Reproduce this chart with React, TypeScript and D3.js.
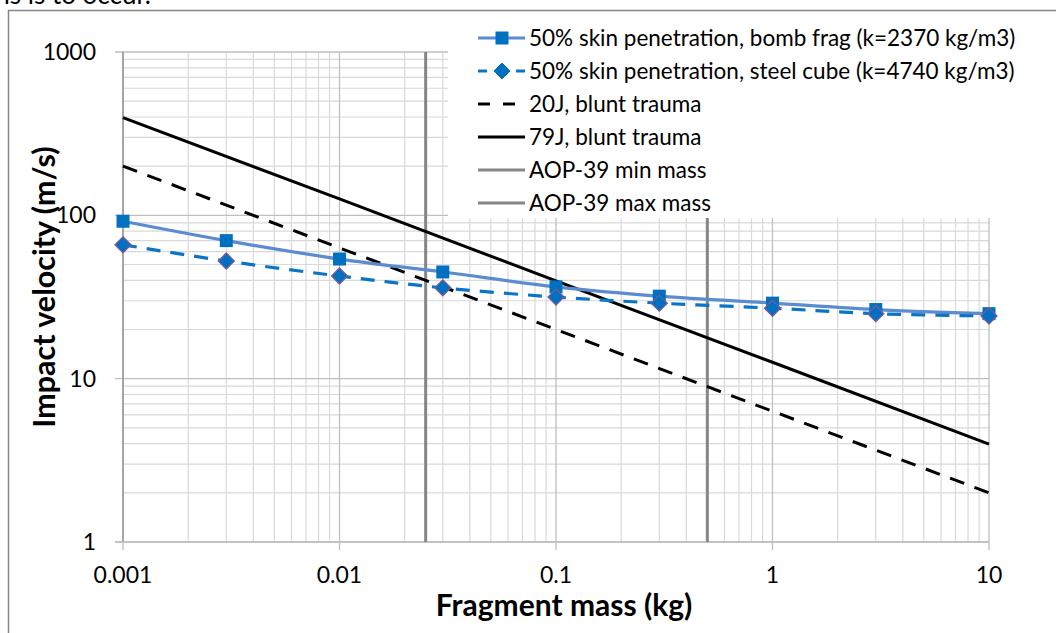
import React from "react";
import * as d3 from "d3";

const massTicks = [0.001, 0.01, 0.1, 1, 10];
const massTickLabels = ["0.001", "0.01", "0.1", "1", "10"];
const velTicks = [1, 10, 100, 1000];
const velTickLabels = ["1", "10", "100", "1000"];

const skinMass = [0.001, 0.003, 0.01, 0.03, 0.1, 0.3, 1, 3, 10];
const bombFragVel = [92, 70, 54, 45, 36.5, 32, 29, 26.5, 25];
const steelCubeVel = [66, 52.5, 42.5, 36, 31.6, 29, 27, 25, 24.2];

const bluntMass = [0.001, 0.01, 0.1, 1, 10];
const blunt20Vel = [200, 63.2, 20, 6.32, 2];
const blunt79Vel = [397, 126, 39.7, 12.6, 3.97];

const aopMinMass = 0.025;
const aopMaxMass = 0.5;

const legendLabels = [
  "50% skin penetration, bomb frag (k=2370 kg/m3)",
  "50% skin penetration, steel cube (k=4740 kg/m3)",
  "20J, blunt trauma",
  "79J, blunt trauma",
  "AOP-39 min mass",
  "AOP-39 max mass",
];

const FONT = "Lato, 'Open Sans', sans-serif";

export default function App() {
  const W = 1056, H = 633;
  const x = d3.scaleLog().domain([0.001, 10]).range([123, 989]);
  const y = d3.scaleLog().domain([1, 1000]).range([542, 52]);

  const minorX: number[] = [];
  const minorY: number[] = [];
  for (let d = 0.001; d < 10; d *= 10) for (let k = 2; k <= 9; k++) minorX.push(+(d * k).toPrecision(3));
  for (let d = 1; d < 1000; d *= 10) for (let k = 2; k <= 9; k++) minorY.push(d * k);

  const smooth = d3.line<[number, number]>().x(d => x(d[0])).y(d => y(d[1])).curve(d3.curveCatmullRom.alpha(0.5));
  const straight = d3.line<[number, number]>().x(d => x(d[0])).y(d => y(d[1]));

  const bomb = skinMass.map((m, i) => [m, bombFragVel[i]] as [number, number]);
  const steel = skinMass.map((m, i) => [m, steelCubeVel[i]] as [number, number]);
  const b20 = bluntMass.map((m, i) => [m, blunt20Vel[i]] as [number, number]);
  const b79 = bluntMass.map((m, i) => [m, blunt79Vel[i]] as [number, number]);

  const sq = 13;
  const dm = 8;
  const legX = 478, legX2 = 525, legMid = 502, legY0 = 38, legDY = 33;

  return (
    <svg width={W} height={H} style={{ position: "absolute", left: 0, top: 0, background: "#fff" }} fontFamily={FONT}>
      <text x={-14} y={4} fontSize={26} fill="#000">ths is to occur.</text>
      <rect x={8.5} y={10.5} width={1100} height={700} fill="none" stroke="#868686" strokeWidth={1.5} />
      {/* grid */}
      {minorY.map((v, i) => (
        <line key={"my" + i} x1={123} x2={989} y1={y(v)} y2={y(v)} stroke="#d9d9d9" strokeWidth={1.2} />
      ))}
      {minorX.map((v, i) => (
        <line key={"mx" + i} x1={x(v)} x2={x(v)} y1={52} y2={542} stroke="#d9d9d9" strokeWidth={1.2} />
      ))}
      {velTicks.map((v, i) => (
        <line key={"Y" + i} x1={115} x2={989} y1={y(v)} y2={y(v)} stroke="#bfbfbf" strokeWidth={1.3} />
      ))}
      {massTicks.map((v, i) => (
        <line key={"X" + i} x1={x(v)} x2={x(v)} y1={52} y2={550} stroke="#bfbfbf" strokeWidth={1.3} />
      ))}
      <line x1={123} x2={123} y1={52} y2={542} stroke="#8c8c8c" strokeWidth={1.3} />
      <line x1={115} x2={989} y1={542} y2={542} stroke="#bfbfbf" strokeWidth={1.5} />
      {/* AOP lines */}
      <line x1={x(aopMinMass)} x2={x(aopMinMass)} y1={52} y2={542} stroke="#868686" strokeWidth={3} />
      <line x1={x(aopMaxMass)} x2={x(aopMaxMass)} y1={52} y2={542} stroke="#868686" strokeWidth={3} />
      {/* blunt */}
      <path d={straight(b20) ?? ""} fill="none" stroke="#000" strokeWidth={3} strokeDasharray="15 11" />
      <path d={straight(b79) ?? ""} fill="none" stroke="#000" strokeWidth={3} />
      {/* skin */}
      <path d={smooth(bomb) ?? ""} fill="none" stroke="#5b8bd0" strokeWidth={3.2} />
      <path d={smooth(steel) ?? ""} fill="none" stroke="#0a74c6" strokeWidth={3.2} strokeDasharray="14 10" />
      {bomb.map((d, i) => (
        <rect key={"s" + i} x={x(d[0]) - sq / 2} y={y(d[1]) - sq / 2} width={sq} height={sq} fill="#0070c0" />
      ))}
      {steel.map((d, i) => (
        <path key={"d" + i} d={`M${x(d[0])},${y(d[1]) - dm}L${x(d[0]) + dm},${y(d[1])}L${x(d[0])},${y(d[1]) + dm}L${x(d[0]) - dm},${y(d[1])}Z`} fill="#0070c0" stroke="#7a5a9a" strokeWidth={1.3} />
      ))}
      {/* axis labels */}
      {velTicks.map((v, i) => (
        <text key={"yl" + i} x={96} y={y(v) + 8} textAnchor="end" fontSize={23} fill="#000">{velTickLabels[i]}</text>
      ))}
      {massTicks.map((v, i) => (
        <text key={"xl" + i} x={x(v)} y={583} textAnchor="middle" fontSize={23} fill="#000">{massTickLabels[i]}</text>
      ))}
      <text x={564} y={616} textAnchor="middle" fontSize={30} fontWeight="bold" fill="#000">Fragment mass (kg)</text>
      <text transform="translate(55,287) rotate(-90)" textAnchor="middle" fontSize={30.5} fontWeight="bold" fill="#000">Impact velocity (m/s)</text>
      {/* legend */}
      <rect x={448} y={22} width={600} height={196} fill="#fff" />
      {legendLabels.map((lab, i) => {
        const ly = legY0 + i * legDY;
        return (
          <g key={"lg" + i}>
            {i === 0 && <>
              <line x1={legX} x2={legX2} y1={ly} y2={ly} stroke="#5b8bd0" strokeWidth={3.2} />
              <rect x={legMid - sq / 2} y={ly - sq / 2} width={sq} height={sq} fill="#0070c0" />
            </>}
            {i === 1 && <>
              <line x1={legX} x2={legX2} y1={ly} y2={ly} stroke="#0a74c6" strokeWidth={3.2} strokeDasharray="9 10" />
              <path d={`M${legMid},${ly - dm}L${legMid + dm},${ly}L${legMid},${ly + dm}L${legMid - dm},${ly}Z`} fill="#0070c0" stroke="#0070c0" strokeWidth={1} />
            </>}
            {i === 2 && <line x1={legX} x2={legX2} y1={ly} y2={ly} stroke="#000" strokeWidth={3} strokeDasharray="12 13" />}
            {i === 3 && <line x1={legX} x2={legX2} y1={ly} y2={ly} stroke="#000" strokeWidth={3} />}
            {i >= 4 && <line x1={legX} x2={legX2} y1={ly} y2={ly} stroke="#868686" strokeWidth={3} />}
            <text x={529} y={ly + 8} fontSize={22.5} fill="#000">{lab}</text>
          </g>
        );
      })}
    </svg>
  );
}
